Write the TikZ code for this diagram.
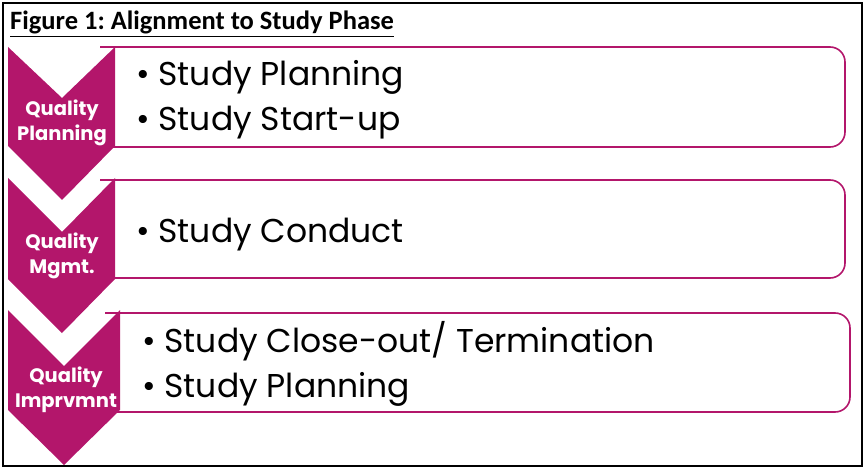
\documentclass[tikz,border=0pt]{standalone}
\usepackage{fontspec}
\setmainfont{Poppins}
\newfontfamily\titlefont{Carlito}
\usepackage{tikz}
\frenchspacing
\definecolor{qmagenta}{HTML}{B3166B}
\tikzset{
  chevron/.style={fill=qmagenta, draw=none},
  phasebox/.style={draw=qmagenta, line width=1.6pt, rounded corners=15pt},
  chevlabel/.style={text=white, font=\bfseries\fontsize{19.5}{25}\selectfont, align=center, inner sep=0pt},
  itemtext/.style={anchor=base west, font=\fontsize{33}{38}\selectfont, inner sep=0pt},
}

\begin{document}
\begin{tikzpicture}[x=1pt,y=-1pt]
    \useasboundingbox (0,0) rectangle (867,473);
    \draw[line width=1.8pt] (3,3) rectangle (862,466);
    \node[anchor=base west, inner sep=0pt, font=\titlefont\bfseries\fontsize{26.5}{30}\selectfont] (title) at (10,30) {\underline{Figure 1: Alignment to Study Phase}};
    % boxes
    \draw[phasebox] (100,47) -- (845,47) -- (845,147) -- (100,147);
    \draw[phasebox] (100,180) -- (845,180) -- (845,278) -- (100,278);
    \draw[phasebox] (105,313) -- (850,313) -- (850,412) -- (105,412);
    % chevrons
    \draw[chevron] (8,47) -- (62,98) -- (115,47) -- (115,146) -- (62,200) -- (8,146) -- cycle;
    \draw[chevron] (8,178) -- (62,232) -- (115,178) -- (115,279) -- (62,333) -- (8,279) -- cycle;
    \draw[chevron] (8,310) -- (64,366) -- (120,310) -- (120,410) -- (64,465) -- (8,410) -- cycle;
    \node[chevlabel] (qplan) at (62,123) {Quality\\Planning};
    \node[chevlabel] (qmgmt) at (62,256) {Quality\\Mgmt.};
    \node[chevlabel] (qimpr) at (66,390) {Quality\\Imprvmnt};
    % items
    \node[itemtext] (plan) at (136,86) {\textbullet\ Study Planning};
    \node[itemtext] (startup) at (136,131) {\textbullet\ Study Start-up};
    \node[itemtext] (conduct) at (136,242) {\textbullet\ Study Conduct};
    \node[itemtext] (closeout) at (142,352) {\textbullet\ Study Close-out/ Termination};
    \node[itemtext] (replan) at (142,397) {\textbullet\ Study Planning};
\end{tikzpicture}
\end{document}
